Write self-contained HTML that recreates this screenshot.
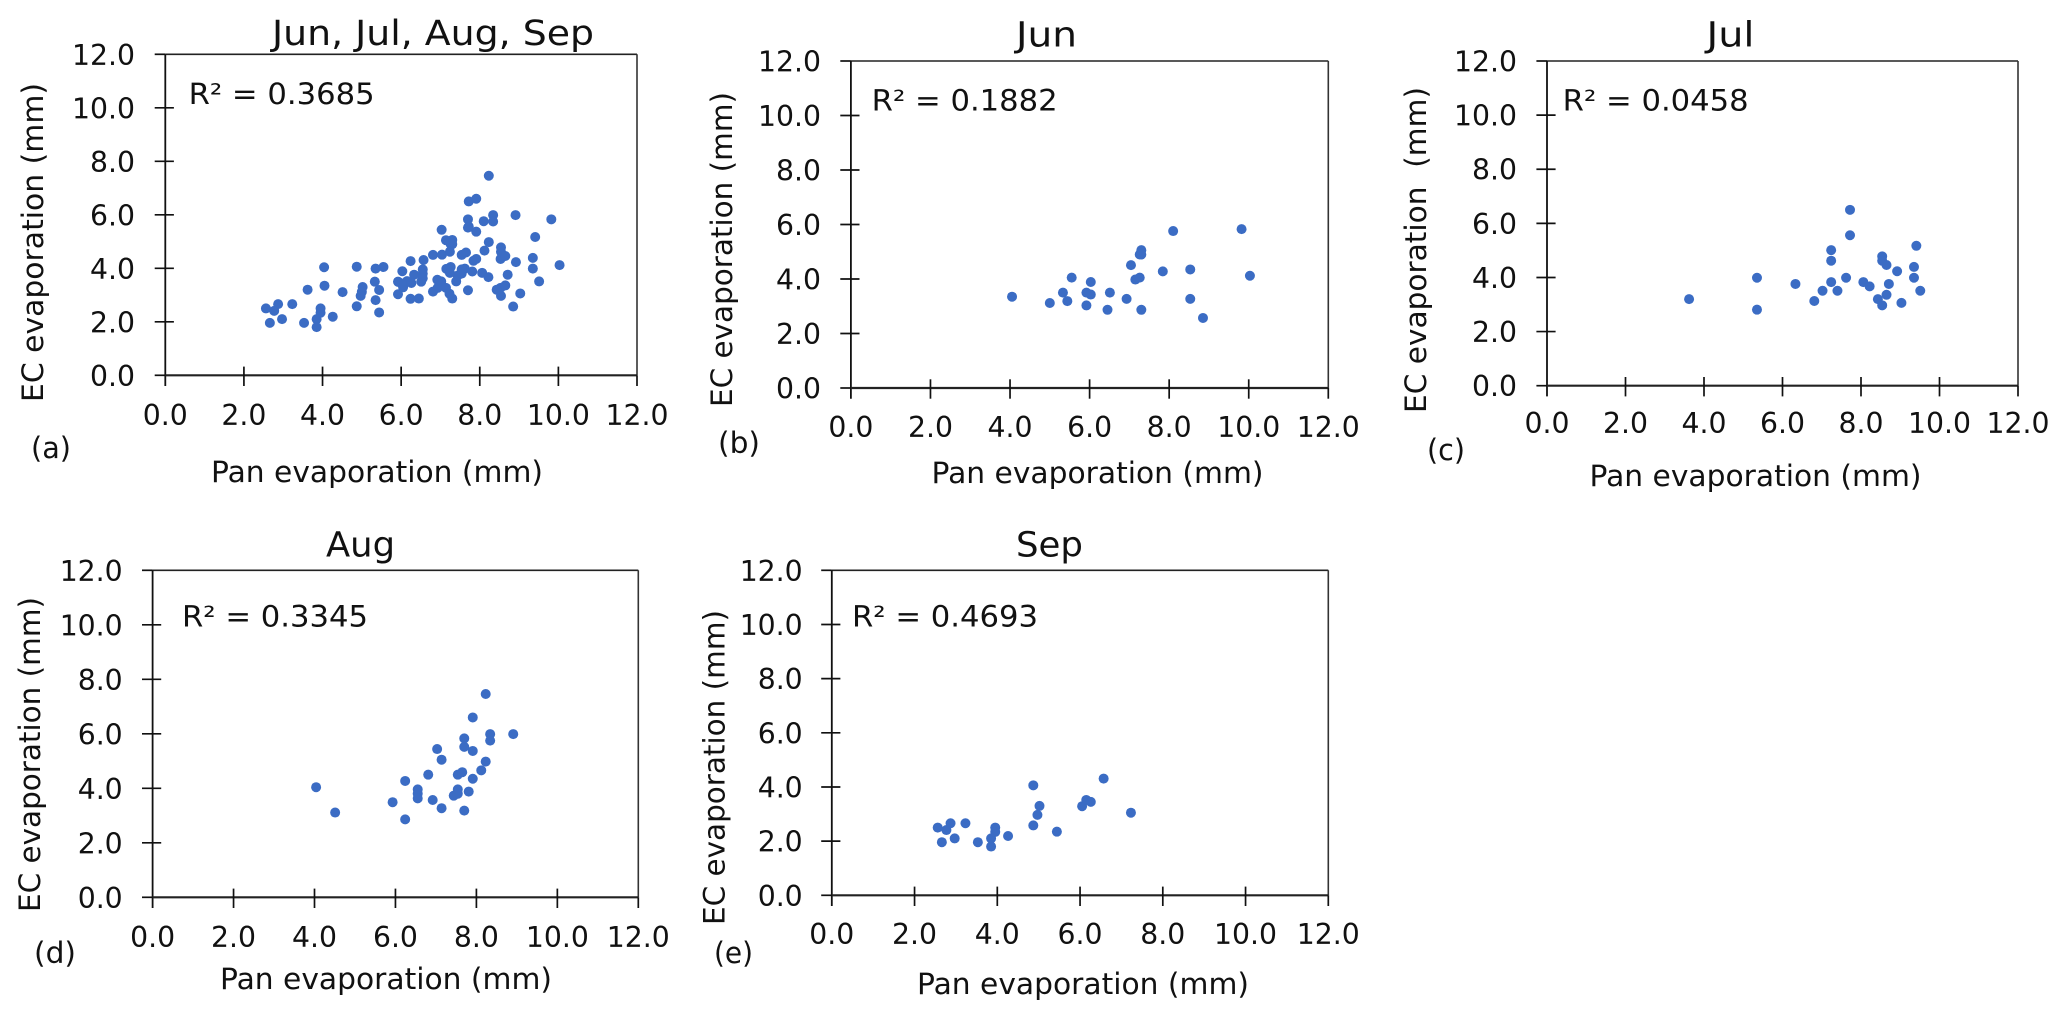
<!DOCTYPE html>
<html lang="en">
<head>
<meta charset="utf-8">
<title>Pan evaporation vs EC evaporation</title>
<style>
html,body{margin:0;padding:0;background:#fff;}
svg{display:block;}
text{font-family:"DejaVu Sans","Liberation Sans",sans-serif;fill:#111;white-space:pre;}
</style>
</head>
<body>
<svg id="figure" width="2067" height="1020" viewBox="0 0 2067 1020" xmlns="http://www.w3.org/2000/svg"></svg>
<script>
const xTickValues = [0, 2, 4, 6, 8, 10, 12];
const yTickValues = [0, 2, 4, 6, 8, 10, 12];
const tickLabels = ['0.0', '2.0', '4.0', '6.0', '8.0', '10.0', '12.0'];

const junX = [4.05,5.0,5.33,5.44,5.55,5.92,5.92,6.03,6.03,6.51,6.45,6.93,7.04,7.15,7.26,7.26,7.3,7.3,7.3,7.84,8.1,8.53,8.53,8.85,9.82,10.03];
const junY = [3.35,3.12,3.5,3.19,4.05,3.5,3.03,3.89,3.43,3.5,2.87,3.27,4.51,3.98,4.05,4.9,5.06,4.9,2.87,4.28,5.76,4.35,3.27,2.57,5.83,4.12];

const julX = [3.62,5.35,5.35,6.33,6.81,7.02,7.24,7.24,7.24,7.4,7.62,7.72,7.72,8.06,8.22,8.43,8.54,8.54,8.54,8.65,8.65,8.71,8.92,9.03,9.35,9.35,9.41,9.51];
const julY = [3.2,3.99,2.81,3.76,3.13,3.51,5.01,4.62,3.83,3.51,3.99,6.5,5.56,3.83,3.67,3.2,2.97,4.78,4.62,4.46,3.36,3.76,4.23,3.06,4.39,3.99,5.17,3.51];

const augX = [4.04,4.51,5.93,6.24,6.24,6.55,6.55,6.55,6.81,6.92,7.03,7.14,7.14,7.44,7.54,7.54,7.54,7.65,7.7,7.7,7.7,7.81,7.91,7.91,7.91,8.12,8.23,8.23,8.34,8.34,8.91];
const augY = [4.04,3.11,3.49,4.27,2.86,3.96,3.8,3.63,4.5,3.57,5.44,5.05,3.27,3.73,3.8,3.96,4.5,4.59,3.18,5.83,5.52,3.88,4.35,5.37,6.6,4.66,4.98,7.46,5.99,5.75,5.99];

const sepX = [2.56,2.66,2.77,2.87,2.97,3.23,3.53,3.85,3.85,3.95,3.95,4.26,4.87,4.87,4.97,5.02,5.44,6.05,6.15,6.26,6.57,7.23];
const sepY = [2.5,1.96,2.41,2.66,2.1,2.66,1.96,2.1,1.8,2.5,2.34,2.19,4.06,2.58,2.97,3.3,2.35,3.29,3.52,3.45,4.31,3.05];

const allX = junX.concat(julX, augX, sepX);
const allY = junY.concat(julY, augY, sepY);

const svg = document.getElementById('figure');
const NS = 'http://www.w3.org/2000/svg';
const AXIS_MAX = 12;

function addLine(parent, x1, y1, x2, y2, width, color, name) {
  const el = document.createElementNS(NS, 'line');
  el.setAttribute('x1', x1);
  el.setAttribute('y1', y1);
  el.setAttribute('x2', x2);
  el.setAttribute('y2', y2);
  el.setAttribute('stroke', color);
  el.setAttribute('stroke-width', width);
  
  
  parent.appendChild(el);
  return el;
}

function addText(parent, x, y, str, size, length, anchor, name, rotate) {
  const el = document.createElementNS(NS, 'text');
  el.setAttribute('x', x);
  el.setAttribute('y', y);
  el.setAttribute('font-size', size);
  el.setAttribute('text-anchor', anchor);
  el.setAttribute('textLength', length);
  el.setAttribute('lengthAdjust', 'spacingAndGlyphs');
  if (rotate) el.setAttribute('transform', 'rotate(-90 ' + x + ' ' + y + ')');
  el.textContent = str;
  
  
  parent.appendChild(el);
  return el;
}

function drawPanel(p) {
  const g = document.createElementNS(NS, 'g');
  
  
  svg.appendChild(g);

  const sx = v => p.left + (v / AXIS_MAX) * (p.right - p.left);
  const sy = v => p.bottom - (v / AXIS_MAX) * (p.bottom - p.top);

  addLine(g, p.left, p.top, p.right, p.top, 1.6, '#222', 'plot-border-top');
  addLine(g, p.right, p.top, p.right, p.bottom, 1.6, '#333', 'plot-border-right');
  addLine(g, p.left, p.top, p.left, p.bottom + 10.7, 1.8, '#111', 'y-axis-line');
  addLine(g, p.left, p.bottom, p.right, p.bottom, 2.2, '#222', 'x-axis-line');

  yTickValues.forEach((v, i) => {
    const y = sy(v);
    const inner = v === AXIS_MAX || v === 0 ? p.left : p.left + 8.6;
    addLine(g, p.left - 10.6, y, inner, y, 1.7, '#111', 'y-tick');
    addText(g, p.yLabelRight, y + 10.5, tickLabels[i], 28.5, tickLabels[i].length > 3 ? 63 : 45, 'end', 'y-tick-label');
  });
  xTickValues.forEach((v, i) => {
    const x = sx(v);
    if (v !== 0) {
      const upper = v === AXIS_MAX ? p.bottom : p.bottom - 8.7;
      addLine(g, x, upper, x, p.bottom + 10.7, 1.7, '#111', 'x-tick');
    }
    addText(g, x, p.xLabelBase, tickLabels[i], 28.5, tickLabels[i].length > 3 ? 63 : 45, 'middle', 'x-tick-label');
  });

  p.xs.forEach((xv, i) => {
    const c = document.createElementNS(NS, 'circle');
    c.setAttribute('cx', sx(xv));
    c.setAttribute('cy', sy(p.ys[i]));
    c.setAttribute('r', 5);
    c.setAttribute('fill', '#3b6cc4');
    
    
    g.appendChild(c);
  });

  addText(g, p.titleX, p.titleY, p.title, 34.5, p.titleW, 'start', 'chart-title');
  addText(g, p.r2X, p.r2Y, p.r2, 29, 186, 'start', 'r-squared-label');
  addText(g, p.xTitleX, p.xTitleY, 'Pan evaporation (mm)', 29, 332, 'start', 'x-axis-title');
  addText(g, p.yTitleX, p.yTitleY, p.yTitle, 29, p.yTitleL, 'start', 'y-axis-title', true);
  addText(g, p.tagX, p.tagY, p.tag, 29, p.tagW, 'start', 'panel-letter');
}

drawPanel({key:'all-months', xs:allX, ys:allY, left:165.3, right:637, top:54.3, bottom:375.3,
  title:'Jun, Jul, Aug, Sep', titleX:272, titleY:45, titleW:322,
  r2:'R² = 0.3685', r2X:188.6, r2Y:104, yLabelRight:135, xLabelBase:425,
  xTitleX:211, xTitleY:482, yTitle:'EC evaporation (mm)', yTitleX:43, yTitleY:402, yTitleL:319,
  tag:'(a)', tagX:31, tagY:458, tagW:40});

drawPanel({key:'jun', xs:junX, ys:junY, left:850.9, right:1328.3, top:61, bottom:388,
  title:'Jun', titleX:1016, titleY:46.7, titleW:61,
  r2:'R² = 0.1882', r2X:871.7, r2Y:110.7, yLabelRight:821, xLabelBase:437,
  xTitleX:931.5, xTitleY:483, yTitle:'EC evaporation (mm)', yTitleX:732, yTitleY:407, yTitleL:315,
  tag:'(b)', tagX:718, tagY:453, tagW:42});

drawPanel({key:'jul', xs:julX, ys:julY, left:1547, right:2018, top:61, bottom:385.7,
  title:'Jul', titleX:1706.5, titleY:46.7, titleW:48,
  r2:'R² = 0.0458', r2X:1562.7, r2Y:110.7, yLabelRight:1517, xLabelBase:433,
  xTitleX:1589.5, xTitleY:486, yTitle:'EC evaporation  (mm)', yTitleX:1426, yTitleY:413, yTitleL:326,
  tag:'(c)', tagX:1427, tagY:460, tagW:38});

drawPanel({key:'aug', xs:augX, ys:augY, left:152.6, right:638.3, top:570.3, bottom:897.3,
  title:'Aug', titleX:326, titleY:556.7, titleW:69,
  r2:'R² = 0.3345', r2X:182, r2Y:626.7, yLabelRight:122.7, xLabelBase:947,
  xTitleX:220, xTitleY:989, yTitle:'EC evaporation (mm)', yTitleX:40, yTitleY:912, yTitleL:315,
  tag:'(d)', tagX:34, tagY:963, tagW:42});

drawPanel({key:'sep', xs:sepX, ys:sepY, left:831.8, right:1328.3, top:570.3, bottom:895.3,
  title:'Sep', titleX:1016, titleY:556.7, titleW:67,
  r2:'R² = 0.4693', r2X:852, r2Y:626.7, yLabelRight:802.7, xLabelBase:944,
  xTitleX:917, xTitleY:994, yTitle:'EC evaporation (mm)', yTitleX:724.7, yTitleY:925, yTitleL:315,
  tag:'(e)', tagX:714, tagY:963, tagW:39});
</script>
</body>
</html>
